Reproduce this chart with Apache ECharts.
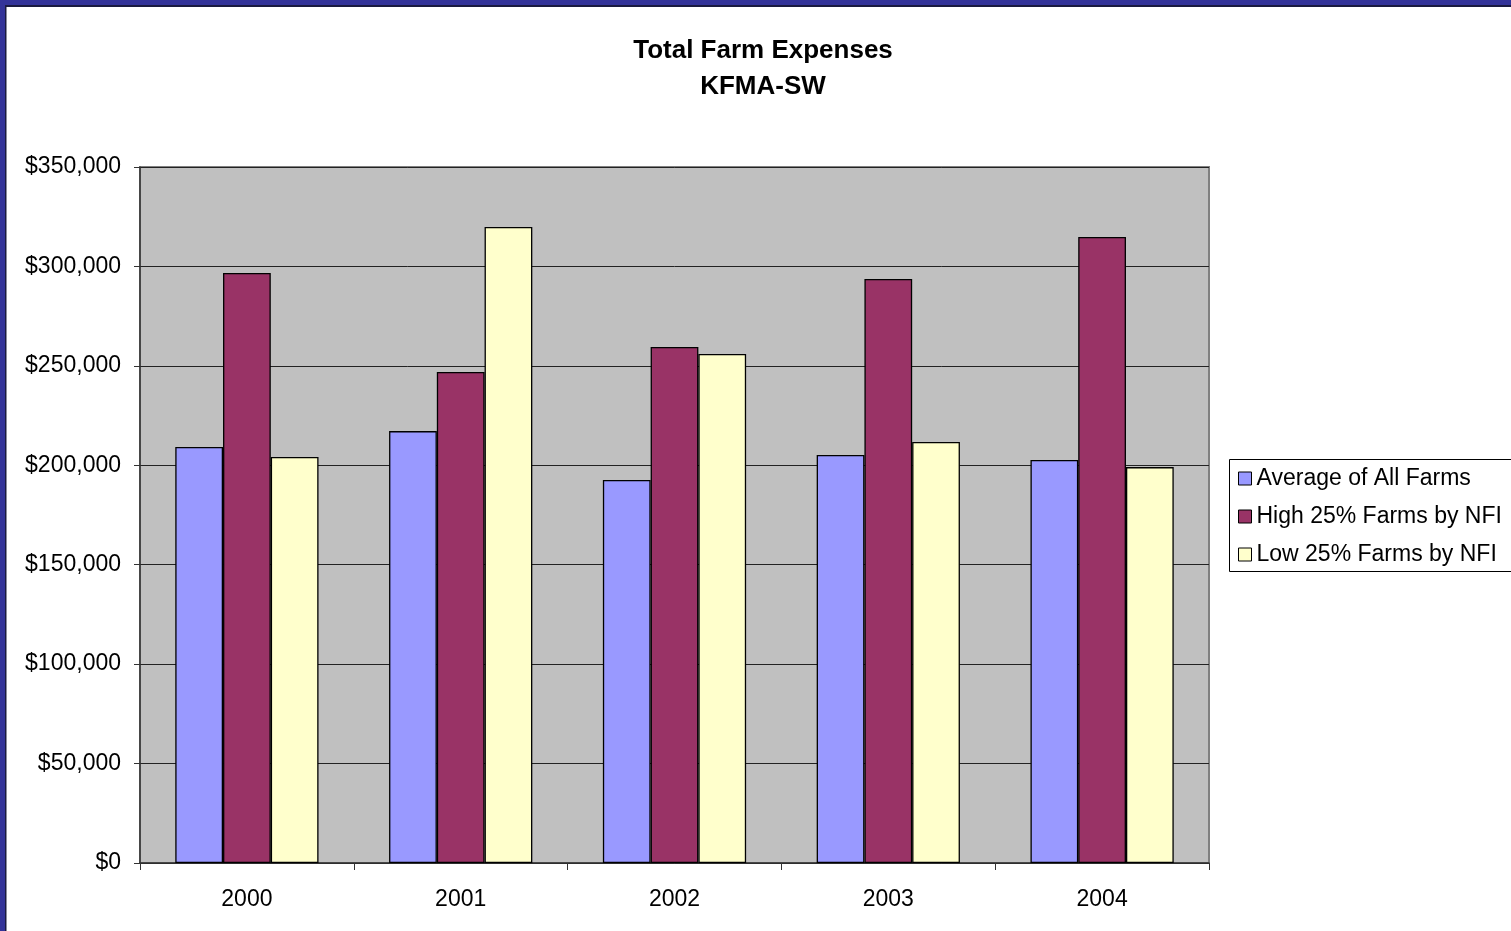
<!DOCTYPE html>
<html><head><meta charset="utf-8">
<script src="https://cdn.jsdelivr.net/npm/echarts@6/dist/echarts.min.js"></script>
<style>html,body{margin:0;padding:0;background:#fff;}#c{width:1511px;height:931px;}</style>
</head><body><div id="c"></div>
<script>
const years = ['2000','2001','2002','2003','2004'];
const avgAll = [209200, 217200, 192600, 205200, 202700];
const high25 = [296700, 246900, 259500, 293700, 314800];
const low25 = [204200, 319800, 256000, 211700, 199100];
const seriesNames = ['Average of All Farms','High 25% Farms by NFI','Low 25% Farms by NFI'];
const colors = ['#9999FF','#993366','#FFFFCC'];
const yTicks = [0, 50000, 100000, 150000, 200000, 250000, 300000, 350000];

const chart = echarts.init(document.getElementById('c'));
const font = "'Liberation Sans', Arial, sans-serif";
const mk = (name, data, i) => ({
  name, type: 'bar', data, barGap: '0%', barCategoryGap: '33%',
  itemStyle: {color: colors[i], borderColor: '#000', borderWidth: 1.3},
  emphasis: {disabled: true}
});
chart.setOption({
  animation: false,
  textStyle: {fontFamily: font},
  title: {
    text: 'Total Farm Expenses\nKFMA-SW', left: 758, top: 28, textAlign: 'center',
    textStyle: {fontSize: 26, fontWeight: 'bold', color: '#000', lineHeight: 36, fontFamily: font}
  },
  grid: {left: 140, right: 302, top: 167, bottom: 68, show: true, backgroundColor: '#C0C0C0', borderColor: '#808080', borderWidth: 2},
  legend: {
    orient: 'vertical', left: 1229, top: 459, padding: [8, 10, 10, 9], itemGap: 15,
    itemWidth: 13, itemHeight: 13, itemTextGap: 6, icon: 'rect',
    itemStyle: {borderColor: '#000', borderWidth: 1},
    textStyle: {fontSize: 23, color: '#000', fontFamily: font},
    data: seriesNames
  },
  xAxis: {
    type: 'category', data: years,
    axisLine: {lineStyle: {color: '#333', width: 1.5}},
    axisTick: {show: true, length: 7, lineStyle: {color: '#333'}},
    axisLabel: {fontSize: 23, color: '#000', margin: 25, fontFamily: font}
  },
  yAxis: {
    type: 'value', min: 0, max: 350000, interval: 50000,
    axisLine: {show: true, lineStyle: {color: '#333', width: 1.5}},
    axisTick: {show: true, length: 6, lineStyle: {color: '#333'}},
    splitLine: {lineStyle: {color: '#222', width: 1}},
    axisLabel: {fontSize: 23, color: '#000', margin: 19, fontFamily: font,
      formatter: v => yTicks.includes(v) ? '$' + v.toLocaleString('en-US') : ''}
  },
  graphic: [
    {type: 'rect', shape: {x: 0, y: 0, width: 1511, height: 5}, style: {fill: '#333399'}, z: 100},
    {type: 'rect', shape: {x: 0, y: 5, width: 1511, height: 2}, style: {fill: '#1a1a40'}, z: 100},
    {type: 'rect', shape: {x: 0, y: 0, width: 5, height: 931}, style: {fill: '#333399'}, z: 100},
    {type: 'rect', shape: {x: 5, y: 5, width: 1.5, height: 926}, style: {fill: '#1a1a40'}, z: 100},
    {type: 'rect', shape: {x: 1229.5, y: 459.5, width: 300, height: 112}, style: {fill: '#fff', stroke: '#000', lineWidth: 1}, z: -1}
  ],
  series: [mk(seriesNames[0], avgAll, 0), mk(seriesNames[1], high25, 1), mk(seriesNames[2], low25, 2)]
});
</script></body></html>
